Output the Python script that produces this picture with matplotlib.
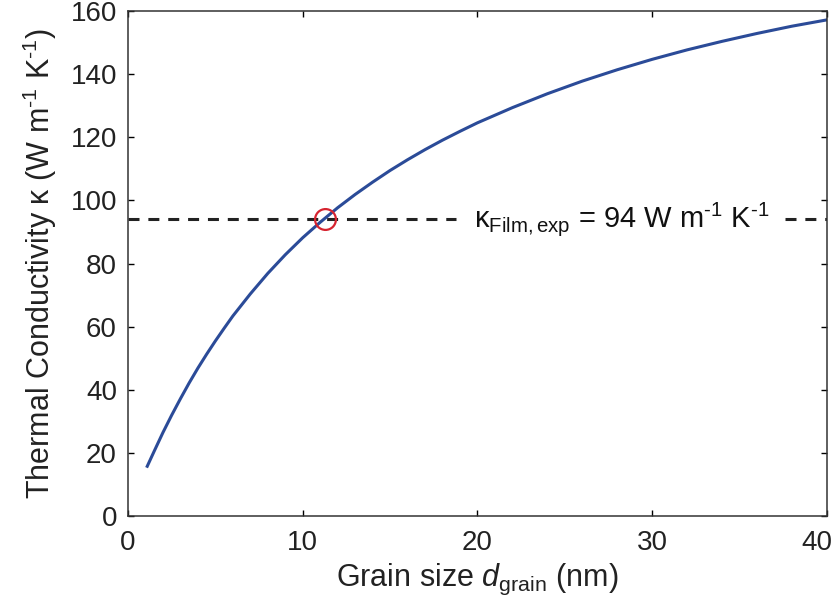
import numpy as np
import matplotlib
matplotlib.use('Agg')
import matplotlib.pyplot as plt
from matplotlib.transforms import ScaledTranslation

plt.rcParams['font.family'] = ['Liberation Sans', 'DejaVu Sans']
plt.rcParams['mathtext.fontset'] = 'custom'
plt.rcParams['mathtext.rm'] = 'Liberation Sans'
plt.rcParams['mathtext.it'] = 'Liberation Sans:italic'

# grain size (nm) and thermal conductivity
d_grain = [1.1, 1.5, 2, 2.5, 3, 3.5, 4, 4.5, 5, 5.5, 6, 7, 8, 9, 10, 11, 12, 13,
           14, 15, 16, 17, 18, 19, 20, 22, 24, 26, 28, 30, 32, 34, 36, 38, 40]
kappa = [15.8, 20.6, 26.5, 32, 37.2, 42.2, 46.9, 51.3, 55.5, 59.5, 63.4, 70.4,
         76.9, 82.8, 88.2, 93.1, 97.7, 101.9, 105.8, 109.5, 112.9, 116.1, 119.1,
         121.9, 124.6, 129.4, 133.8, 137.8, 141.4, 144.7, 147.7, 150.4, 152.9,
         155.2, 157.2]

kappa_exp = 94
d_exp = 11.3
xticks = [0, 10, 20, 30, 40]
yticks = [0, 20, 40, 60, 80, 100, 120, 140, 160]

fig = plt.figure(figsize=(8.34, 6.13), dpi=100)
ax = fig.add_axes([0.1535, 0.158, 0.838, 0.824])

ax.plot([0, 18.8], [kappa_exp, kappa_exp], color='#222222', lw=2.2,
        ls=(0, (3.6, 2.9)))
ax.plot([37.6, 40], [kappa_exp, kappa_exp], color='#222222', lw=2.2,
        ls=(0, (3.6, 2.9)))
ax.plot(d_grain, kappa, color='#2b4b98', lw=2.2)
ax.plot([d_exp], [kappa_exp], 'o', mfc='none', mec='#d62430', ms=15, mew=1.6)

ax.text(19.8, kappa_exp,
        r'κ$_{\rm Film,exp}$ = 94 W m$^{\text{-1}}$ K$^{\text{-1}}$',
        fontsize=21, color='#111111', va='center', ha='left')

ax.set_xlim(0, 40)
ax.set_ylim(0, 160)
ax.set_xticks(xticks)
ax.set_yticks(yticks)
ax.tick_params(direction='in', length=4, width=1, top=True, right=True,
               labelsize=20, labelcolor='#222222')
ax.tick_params(axis='x', pad=10)
ax.tick_params(axis='y', pad=8)
# last x label sits slightly inside the figure edge
lab = ax.get_xticklabels()[-1]
lab.set_transform(lab.get_transform() + ScaledTranslation(-10 / 100, 0, fig.dpi_scale_trans))
for s in ax.spines.values():
    s.set_linewidth(1.1)
    s.set_color('#333333')

ax.set_xlabel(r'Grain size $d_{\rm grain}$ (nm)', fontsize=22, color='#222222', labelpad=4)
ax.set_ylabel(r'Thermal Conductivity κ (W m$^{\text{-1}}$ K$^{\text{-1}}$)', fontsize=22,
              color='#222222', labelpad=8)

fig.savefig('out.png', dpi=100)
